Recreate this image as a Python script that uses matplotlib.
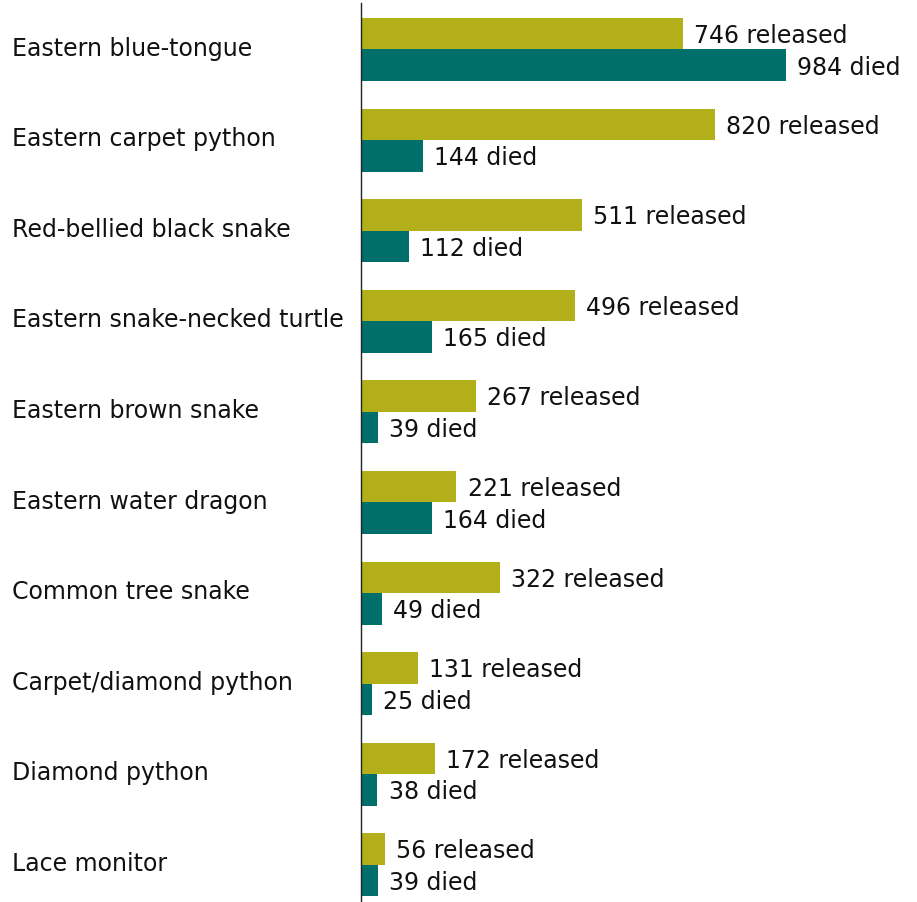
import numpy as np
import matplotlib.pyplot as plt
import matplotlib.transforms as mtransforms

species = ["Eastern blue-tongue", "Eastern carpet python", "Red-bellied black snake",
           "Eastern snake-necked turtle", "Eastern brown snake", "Eastern water dragon",
           "Common tree snake", "Carpet/diamond python", "Diamond python", "Lace monitor"]
released = [746, 820, 511, 496, 267, 221, 322, 131, 172, 56]
died = [984, 144, 112, 165, 39, 164, 49, 25, 38, 39]

olive = "#b3af1a"
teal = "#006e6a"

plt.rcParams['font.family'] = ['DejaVu Sans']

fig = plt.figure(figsize=(9.17, 9.03), dpi=100)
ax = fig.add_axes([361 / 917, 0, 556 / 917, 899 / 903])

y = np.arange(len(species))
h = 0.348
ax.barh(y - h / 2, released, height=h, color=olive)
ax.barh(y + h / 2, died, height=h, color=teal)

ax.set_xlim(0, 1287)
ax.set_ylim(9.41, -0.513)

fs = 17
for i in range(len(species)):
    ax.annotate(f"{released[i]} released", (released[i], y[i] - h / 2), xytext=(8, -1),
                textcoords="offset points", va="center", ha="left", fontsize=fs, color="#111111")
    ax.annotate(f"{died[i]} died", (died[i], y[i] + h / 2), xytext=(8, -1),
                textcoords="offset points", va="center", ha="left", fontsize=fs, color="#111111")

blend = mtransforms.blended_transform_factory(fig.transFigure, ax.transData)
for i, name in enumerate(species):
    ax.text(12 / 917, y[i] - 0.02, name, transform=blend, ha="left", va="center",
            fontsize=fs, color="#111111")

for s in ["top", "right", "bottom"]:
    ax.spines[s].set_visible(False)
ax.spines["left"].set_color("#222222")
ax.spines["left"].set_linewidth(1.0)
ax.set_xticks([])
ax.set_yticks([])

fig.savefig("out.png", dpi=100)
